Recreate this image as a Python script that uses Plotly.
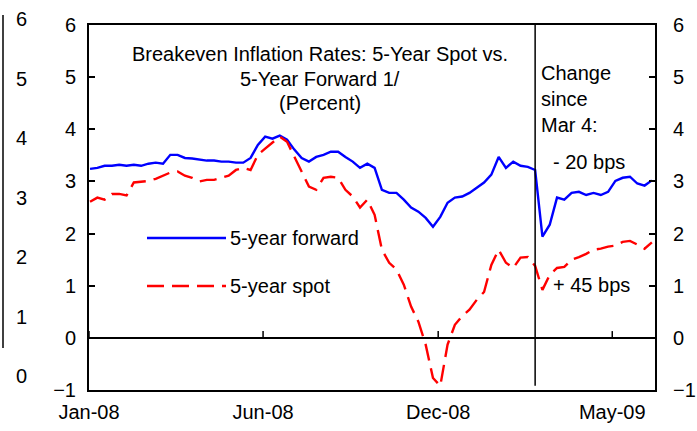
import plotly.graph_objects as go
import pandas as pd

# ---- data (weekly readings, Wednesdays) ----
dates = pd.date_range("2008-01-02", periods=78, freq="7D")
forward = [3.24, 3.26, 3.30, 3.30, 3.32, 3.30, 3.32, 3.30, 3.34, 3.36,
           3.34, 3.51, 3.51, 3.45, 3.44, 3.42, 3.40, 3.40, 3.38, 3.38,
           3.36, 3.36, 3.45, 3.70, 3.86, 3.82, 3.88, 3.80, 3.61, 3.45,
           3.38, 3.47, 3.51, 3.57, 3.57, 3.47, 3.38, 3.26, 3.34, 3.26,
           2.84, 2.78, 2.78, 2.65, 2.50, 2.42, 2.30, 2.13, 2.32, 2.59,
           2.69, 2.71, 2.78, 2.88, 2.98, 3.13, 3.47, 3.26, 3.38, 3.30,
           3.28, 3.22, 1.94, 2.17, 2.69, 2.65, 2.78, 2.80, 2.74, 2.78,
           2.74, 2.80, 3.01, 3.07, 3.09, 2.96, 2.92, 3.02]
spot = [2.61, 2.69, 2.65, 2.76, 2.76, 2.73, 2.98, 3.00, 3.01, 3.05,
        3.11, 3.17, 3.19, 3.11, 3.07, 3.00, 3.03, 3.03, 3.07, 3.11,
        3.22, 3.26, 3.22, 3.51, 3.63, 3.74, 3.86, 3.76, 3.47, 3.19,
        2.90, 2.84, 3.07, 3.09, 3.07, 2.84, 2.71, 2.50, 2.65, 2.36,
        1.69, 1.44, 1.31, 1.02, 0.60, 0.31, -0.13, -0.77, -0.92, -0.13,
        0.25, 0.42, 0.54, 0.73, 0.88, 1.40, 1.69, 1.44, 1.34, 1.54,
        1.55, 1.38, 0.92, 1.21, 1.34, 1.36, 1.50, 1.55, 1.61, 1.69,
        1.71, 1.75, 1.77, 1.84, 1.86, 1.79, 1.71, 1.83]

tick_dates = ["2008-01-01", "2008-06-16", "2008-12-01", "2009-05-17"]
tick_labels = ["Jan-08", "Jun-08", "Dec-08", "May-09"]
y_ticks = [-1, 0, 1, 2, 3, 4, 5, 6]
phantom_ticks = [6, 5, 4, 3, 2, 1, 0]
event_date = "2009-03-04"
title_lines = ["Breakeven Inflation Rates: 5-Year Spot vs.", "5-Year Forward 1/", "(Percent)"]
change_lines = ["Change", "since", "Mar 4:"]
series_names = ["5-year forward", "5-year spot"]
change_labels = ["- 20 bps", "+ 45 bps"]

# ---- layout helpers ----
W, H = 697, 431
L, R, T, B = 89, 42, 25, 41
PW, PH = W - L - R, H - T - B
FONT = "Arial, Liberation Sans, sans-serif"
FS = 20
LW = 2.4


def px(x):
    return (x - L) / PW


def py(y):
    return (H - B - y) / PH


fig = go.Figure()
fig.add_trace(go.Scatter(x=dates, y=forward, mode="lines", name=series_names[0],
                         line=dict(color="#0000ff", width=LW)))
fig.add_trace(go.Scatter(x=dates, y=spot, mode="lines", name=series_names[1],
                         line=dict(color="#ff0000", width=LW, dash="17px,8px")))
fig.add_trace(go.Scatter(x=[dates[0]], y=[None], yaxis="y2", showlegend=False,
                         hoverinfo="skip"))

shapes = []
# event vertical line
shapes.append(dict(type="line", xref="x", yref="y", x0=event_date, x1=event_date,
                   y0=-0.92, y1=6, line=dict(color="black", width=1.5)))
# ticks on zero line
for d in tick_dates:
    shapes.append(dict(type="line", xref="x", yref="y", x0=d, x1=d, y0=0, y1=0.13,
                       line=dict(color="black", width=1.5)))
# legend samples
shapes.append(dict(type="line", xref="paper", yref="paper", x0=px(147), x1=px(226),
                   y0=py(238), y1=py(238), line=dict(color="#0000ff", width=LW)))
shapes.append(dict(type="line", xref="paper", yref="paper", x0=px(147), x1=px(226),
                   y0=py(286), y1=py(286), line=dict(color="#ff0000", width=LW, dash="17px,8px")))
# phantom axis line on far left
shapes.append(dict(type="line", xref="paper", yref="paper", x0=px(3), x1=px(3),
                   y0=py(15), y1=py(348), line=dict(color="black", width=1.5)))

ann = []
tf = dict(family=FONT, size=FS, color="black")
for i, t in enumerate(title_lines):
    ann.append(dict(text=t, xref="paper", yref="paper", x=px(320), y=py(54 + 24.5 * i),
                    xanchor="center", yanchor="middle", showarrow=False, font=tf))
for i, t in enumerate(change_lines):
    ann.append(dict(text=t, xref="paper", yref="paper", x=px(539), y=py(73 + 26 * i),
                    xanchor="left", yanchor="middle", showarrow=False, font=tf))
ann.append(dict(text=change_labels[0], xref="paper", yref="paper", x=px(551), y=py(162),
                xanchor="left", yanchor="middle", showarrow=False, font=tf))
ann.append(dict(text=change_labels[1], xref="paper", yref="paper", x=px(551), y=py(285),
                xanchor="left", yanchor="middle", showarrow=False, font=tf))
ann.append(dict(text=series_names[0], xref="paper", yref="paper", x=px(228), y=py(238),
                xanchor="left", yanchor="middle", showarrow=False, font=tf))
ann.append(dict(text=series_names[1], xref="paper", yref="paper", x=px(228), y=py(286),
                xanchor="left", yanchor="middle", showarrow=False, font=tf))
for i, t in enumerate(phantom_ticks):
    ann.append(dict(text=str(t), xref="paper", yref="paper", x=px(21), y=py(19 + 59.5 * i),
                    xanchor="center", yanchor="middle", showarrow=False, font=tf))

axis_common = dict(showgrid=False, showline=True, linecolor="black", linewidth=2,
                   automargin=False,
                   tickfont=dict(family=FONT, size=FS, color="black"))

fig.update_layout(
    template="none",
    width=W, height=H,
    margin=dict(l=L, r=R, t=T, b=B, pad=0, autoexpand=False),
    paper_bgcolor="white", plot_bgcolor="white",
    showlegend=False,
    xaxis=dict(type="date", range=["2008-01-01", "2009-06-27"], tickvals=tick_dates,
               ticktext=tick_labels, ticks="", mirror=True, zeroline=False,
               ticklabelstandoff=3, **axis_common),
    yaxis=dict(range=[-1, 6], tickvals=y_ticks, ticks="inside", ticklen=6, tickwidth=2,
               tickcolor="black", mirror=True, zeroline=True, zerolinecolor="black",
               zerolinewidth=2, ticklabelstandoff=7, **axis_common),
    yaxis2=dict(range=[-1, 6], tickvals=y_ticks, overlaying="y", side="right",
                ticks="inside", ticklen=6, tickwidth=2, tickcolor="black", zeroline=False,
                ticklabelstandoff=12, **axis_common),
    shapes=shapes, annotations=ann,
)

fig.write_html("out.html", config={"displayModeBar": False},
               post_script="document.body.style.margin='0';document.body.style.overflow='hidden';")
